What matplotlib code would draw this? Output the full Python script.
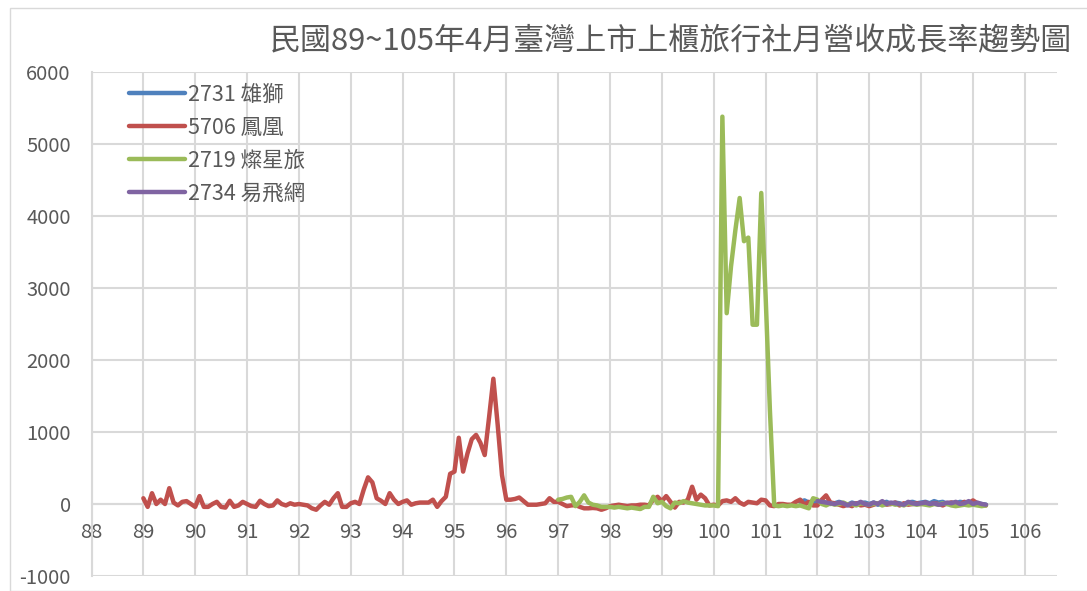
import numpy as np
import matplotlib
matplotlib.use("Agg")
import matplotlib.pyplot as plt
from matplotlib.patches import Rectangle

plt.rcParams['font.family'] = ['Noto Sans CJK TC', 'DejaVu Sans']
plt.rcParams['axes.unicode_minus'] = False

title = "民國89~105年4月臺灣上市上櫃旅行社月營收成長率趨勢圖"

# monthly growth rate (%), series start given as (ROC year, month)
labels = ["2731 雄獅", "5706 鳳凰", "2719 燦星旅", "2734 易飛網"]
colors = ["#4f81bd", "#c0504d", "#9bbb59", "#8064a2"]

lion_start = (101, 9)
lion = [30, 50, 20, 40,
        10, 30, 20, 0, 10, 30, 10, -10, 20, 0, 10, 20,
        0, 20, -10, 10, 30, 0, 20, 10, -10, 20, 30, 10,
        20, 30, 10, 40, 20, 30, 0, 20, 10, 30, 20, 10,
        20, 10, 0, -10]

phoenix_start = (89, 1)
phoenix = [80, -40, 150, 0, 60, 0, 220, 20, -20, 30, 40, 0,
           -40, 110, -40, -40, 0, 30, -40, -50, 45, -40, -20, 30,
           0, -30, -40, 45, 0, -30, -20, 50, 0, -20, 10, -10,
           0, -10, -20, -60, -80, -20, 30, -10, 80, 150, -40, -40,
           10, 30, 0, 200, 370, 300, 80, 45, 0, 150, 60, 0,
           30, 50, -10, 10, 20, 20, 20, 60, -40, 40, 100, 420,
           450, 920, 450, 700, 900, 960, 850, 680, 1200, 1740, 1100, 400,
           60, 60, 70, 90, 40, -10, -10, -10, 0, 10, 80, 30,
           30, 0, -30, -20, -15, -40, -60, -60, -55, -60, -80, -60,
           -30, -20, -10, -20, -30, -20, -20, -10, -10, -20, 60, 100,
           40, 110, 30, -50, 30, 20, 60, 240, 60, 130, 80, -20,
           -10, -20, 40, 50, 30, 80, 20, -10, 30, 20, 10, 60,
           50, -20, -30, 0, 0, -10, -10, 30, 60, -10, 30, -20,
           -20, 60, 120, 20, 10, -10, -30, -10, -30, 10, -20, -10,
           -30, -10, 10, 20, -10, 0, 20, -20, 10, -10, 0, 10,
           0, 20, -10, 10, 0, -20, 10, 20, 0, -10, 30, 10,
           50, 10, -10, -20]

star_start = (97, 1)
star = [60, 70, 90, 100, -30, 30, 120, 20, -10, -20, -40, -40,
        -40, -50, -40, -50, -60, -50, -60, -70, -40, -40, 100, 10,
        30, -30, -60, 20, 10, 40, 20, 10, 0, -10, -20, -20,
        -20, -30, 5380, 2650, 3300, 3800, 4250, 3650, 3700, 2490, 2490, 4320,
        2900, 1300, -20, -30, -20, -30, -20, -30, -20, -40, -60, 80,
        60, 0, -20, 10, -10, 0, 20, -10, 0, -20, 10, 0,
        -10, 0, 10, -20, 0, 10, -10, 0, -20, 10, 0, -10,
        0, -10, -20, 0, -10, 10, 0, -20, -30, -20, -10, -20,
        -10, -20, -30, -20]

ezfly_start = (102, 1)
ezfly = [40, 30, 20, 10, 0, 20, 10, -20, 10, 0, 30, 0,
         -10, 20, 0, 40, 0, 20, 10, 0, -10, 30, 10, 0,
         10, 20, 0, 10, -10, 0, 20, 10, 30, 0, 10, 40,
         0, 20, 0, -10]

year_ticks = list(range(88, 107))
y_ticks = list(range(-1000, 6001, 1000))


def month_axis(start, n):
    y, m = start
    return y + (m - 1 + np.arange(n)) / 12.0


fig = plt.figure(figsize=(10.87, 5.91), dpi=100)
fig.patches.append(Rectangle((10 / 1087, 0), 1.2, (591 - 8) / 591, transform=fig.transFigure,
                             fill=False, edgecolor="#d9d9d9", linewidth=1.0))

ax = fig.add_axes([91.5 / 1087, 15 / 591, (1057 - 91.5) / 1087, (576 - 72) / 591])

series = [(lion_start, lion), (phoenix_start, phoenix), (star_start, star), (ezfly_start, ezfly)]
for (start, vals), lab, col in zip(series, labels, colors):
    ax.plot(month_axis(start, len(vals)), vals, color=col, lw=3.2, label=lab,
            solid_joinstyle="round", solid_capstyle="round", zorder=3)

ax.set_xlim(88, 106.62)
ax.set_ylim(-1000, 6000)
ax.set_xticks(year_ticks)
ax.set_yticks(y_ticks)
ax.grid(True, color="#d9d9d9", lw=1.5, zorder=0)
ax.set_axisbelow(True)

for side in ["top", "right"]:
    ax.spines[side].set_visible(False)
ax.spines["left"].set_color("#d9d9d9")
ax.spines["left"].set_linewidth(1.5)
ax.spines["bottom"].set_position(("data", 0))
ax.spines["bottom"].set_color("#d9d9d9")
ax.spines["bottom"].set_linewidth(1.5)

ax.tick_params(axis="both", length=0, labelsize=14.5, labelcolor="#595959")
ax.tick_params(axis="y", pad=15)
ax.tick_params(axis="x", pad=13)

leg = ax.legend(loc="upper left", bbox_to_anchor=(129 / 1087, 1 - 84 / 591),
                bbox_transform=fig.transFigure, frameon=False, fontsize=15.5,
                handlelength=2.6, handletextpad=0.15, labelspacing=0.5,
                borderpad=0, borderaxespad=0)
for t in leg.get_texts():
    t.set_color("#595959")

fig.text(270 / 1087, 1 - 42 / 591, title, fontsize=22.3, color="#595959",
         ha="left", va="center")

fig.savefig("out.png", dpi=100)
